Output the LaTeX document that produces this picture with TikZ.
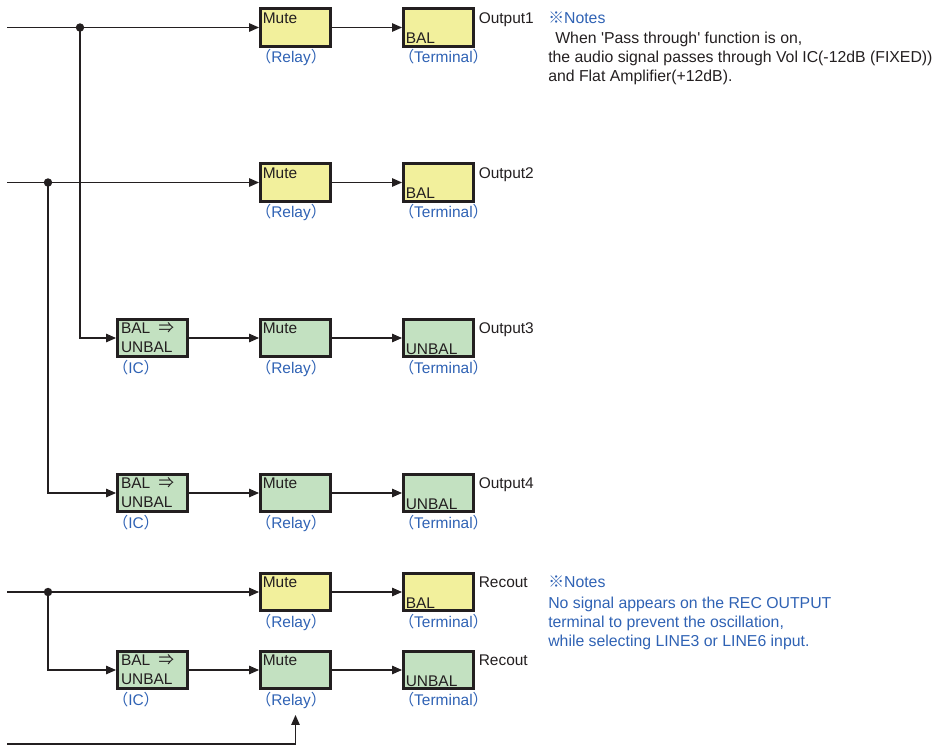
\documentclass[tikz,border=0pt]{standalone}
\usepackage{fontspec}
\setmainfont{Liberation Sans}
\newfontfamily\cjk{Noto Sans CJK JP}
\usetikzlibrary{arrows.meta,positioning}
\definecolor{Ink}{HTML}{231F20}
\definecolor{BoxYellow}{HTML}{F2F09C}
\definecolor{BoxGreen}{HTML}{C3E1C1}
\definecolor{NoteBlue}{HTML}{2F62B4}

\begin{document}
\begin{tikzpicture}[
      x=0.025cm, y=-0.025cm,
      font=\fontsize{11}{13.5}\selectfont,
      block/.style={
        draw=Ink,
        line width=2.1pt,
        minimum width=1.75cm,
        minimum height=0.93cm,
        inner sep=0pt
      },
      intop/.style={anchor=north west, inner sep=2.5pt, yshift=-1pt, text=Ink},
      inbottom/.style={anchor=south west, inner sep=2.5pt, text=Ink},
      partname/.style={anchor=north west, inner sep=1pt, xshift=-3.5pt, text=NoteBlue},
      outname/.style={anchor=north west, inner sep=2.5pt, yshift=-1pt, text=Ink},
      mutebox/.style={block, fill=#1,
        label={[intop]north west:Mute},
        label={[partname]south west:{\cjk （}Relay{\cjk ）}}},
      termbox/.style 2 args={block, fill=#1,
        label={[inbottom]south west:#2},
        label={[partname]south west:{\cjk （}Terminal{\cjk ）}}},
      icbox/.style={block, fill=BoxGreen,
        text width=1.75cm-5pt, align=left, text=Ink,
        label={[partname]south west:{\cjk （}IC{\cjk ）}}},
      sig/.style={draw=Ink, line width=0.75pt, -{Triangle[length=7pt,width=6pt]}},
      notes/.style={anchor=north west, inner sep=0pt, align=left,
        font=\fontsize{11.25}{13.6}\selectfont}
    ]
      \useasboundingbox (0,0) rectangle (936,746);

      \coordinate (in1) at (7,27.5);
      \coordinate (in2) at (7,182.5);
      \coordinate (in5) at (7,592);
      \coordinate (in6) at (7,744);
      \coordinate (j1) at (80,27.5);
      \coordinate (j2) at (48,182.5);
      \coordinate (j5) at (48,592);
      \coordinate (ctl) at (295.5,715);

      \node[mutebox=BoxYellow] (mute1) at (295.5,27.5) {};
      \node[termbox={BoxYellow}{BAL}, right=1.75cm of mute1,
        label={[outname]north east:Output1}] (term1) {};

      \node[mutebox=BoxYellow] (mute2) at (295.5,182.5) {};
      \node[termbox={BoxYellow}{BAL}, right=1.75cm of mute2,
        label={[outname]north east:Output2}] (term2) {};

      \node[mutebox=BoxGreen] (mute3) at (295.5,338) {};
      \node[icbox, left=1.75cm of mute3] (ic3) {BAL\hspace{6pt}{\cjk ⇒}\\UNBAL};
      \node[termbox={BoxGreen}{UNBAL}, right=1.75cm of mute3,
        label={[outname]north east:Output3}] (term3) {};

      \node[mutebox=BoxGreen] (mute4) at (295.5,493) {};
      \node[icbox, left=1.75cm of mute4] (ic4) {BAL\hspace{6pt}{\cjk ⇒}\\UNBAL};
      \node[termbox={BoxGreen}{UNBAL}, right=1.75cm of mute4,
        label={[outname]north east:Output4}] (term4) {};

      \node[mutebox=BoxYellow] (mute5) at (295.5,592) {};
      \node[termbox={BoxYellow}{BAL}, right=1.75cm of mute5,
        label={[outname]north east:Recout}] (term5) {};

      \node[mutebox=BoxGreen] (mute6) at (295.5,670) {};
      \node[icbox, left=1.75cm of mute6] (ic6) {BAL\hspace{6pt}{\cjk ⇒}\\UNBAL};
      \node[termbox={BoxGreen}{UNBAL}, right=1.75cm of mute6,
        label={[outname]north east:Recout}] (term6) {};

      \draw[sig] (in1) -- (mute1);
      \draw[sig] (mute1) -- (term1);
      \draw[sig] (in2) -- (mute2);
      \draw[sig] (mute2) -- (term2);
      \draw[sig] (j1) |- (ic3);
      \draw[sig] (ic3) -- (mute3);
      \draw[sig] (mute3) -- (term3);
      \draw[sig] (j2) |- (ic4);
      \draw[sig] (ic4) -- (mute4);
      \draw[sig] (mute4) -- (term4);
      \draw[sig] (in5) -- (mute5);
      \draw[sig] (mute5) -- (term5);
      \draw[sig] (j5) |- (ic6);
      \draw[sig] (ic6) -- (mute6);
      \draw[sig] (mute6) -- (term6);
      \draw[sig] (in6) -| (ctl);
      \foreach \j in {j1,j2,j5}
        \fill[Ink] (\j) circle (3pt);

      \node[notes, text=Ink] (note1) at (548,12) {
        \textcolor{NoteBlue}{{\cjk ※}Notes}\\
        \hspace{5pt}When \textquotesingle Pass through\textquotesingle\ function is on,\\
        the audio signal passes through Vol IC(-12dB (FIXED))\\
        and Flat Amplifier(+12dB).};
      \node[notes, text=NoteBlue] (note2) at (548,575) {
        {\cjk ※}Notes\\[1.5pt]
        No signal appears on the REC OUTPUT\\
        terminal to prevent the oscillation,\\
        while selecting LINE3 or LINE6 input.};
    \end{tikzpicture}
\end{document}
